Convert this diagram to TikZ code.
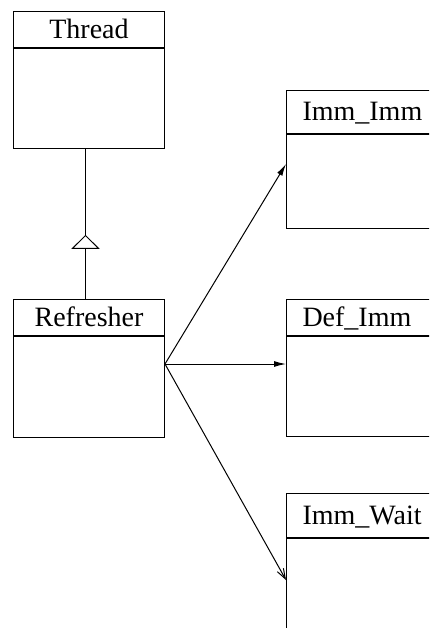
\documentclass[tikz,border=0pt]{standalone}
\usepackage{fontspec}
\setmainfont{Liberation Serif}
\usetikzlibrary{arrows.meta,decorations.markings}

\tikzset{
  classname/.style={draw, anchor=north west, minimum width=151pt, minimum height=36pt,
    inner sep=0pt, text height=22pt, text depth=4pt},
  leftname/.style={classname, align=left, text width=125pt, inner xsep=16pt},
  classbody/.style={draw, anchor=north west, minimum width=151pt, inner sep=0pt},
  inherit/.style={postaction={decorate, decoration={markings,
    mark=at position 0.428 with {\arrow{Triangle[length=14pt,width=28pt,fill=white]}}}}},
}

\begin{document}
\begin{tikzpicture}[x=1pt, y=-1pt, line width=1pt,
  every node/.append style={font=\fontsize{28}{32}\selectfont}]
\useasboundingbox (0,0) rectangle (429,628);
\clip (0,0) rectangle (429,628);

% left column
\node[classname] (Thread) at (13,11) {Thread};
\node[classbody, minimum height=100pt] (Thread body) at (Thread.south west) {};

\node[classname] (Refresher) at (13,299) {Refresher};
\node[classbody, minimum height=101pt] (Refresher body) at (Refresher.south west) {};

% right column
\node[leftname, minimum height=43pt] (Imm Imm) at (286,90) {Imm\_Imm};
\node[classbody, minimum height=94pt] (Imm Imm body) at (Imm Imm.south west) {};

\node[leftname] (Def Imm) at (286,299) {Def\_Imm};
\node[classbody, minimum height=100pt] (Def Imm body) at (Def Imm.south west) {};

\node[leftname, minimum height=44pt] (Imm Wait) at (286,493) {Imm\_Wait};
\node[classbody, minimum height=150pt] (Imm Wait body) at (Imm Wait.south west) {};

\coordinate (Refresher out) at ([yshift=-28pt]Refresher body.north east);

\draw[inherit] ([xshift=-3.5pt]Refresher.north) -- ([xshift=-3.5pt]Thread body.south);
\draw[-{Latex[length=12pt,width=6pt]}] (Refresher out) -- ([yshift=-30pt]Imm Imm body.north west);
\draw[-{Latex[length=12pt,width=6pt]}] (Refresher out) -- ([yshift=-28pt]Def Imm body.north west);
\draw[-{Straight Barb[length=10pt,width=7pt]}] (Refresher out) -- ([yshift=-42pt]Imm Wait body.north west);
\end{tikzpicture}
\end{document}
